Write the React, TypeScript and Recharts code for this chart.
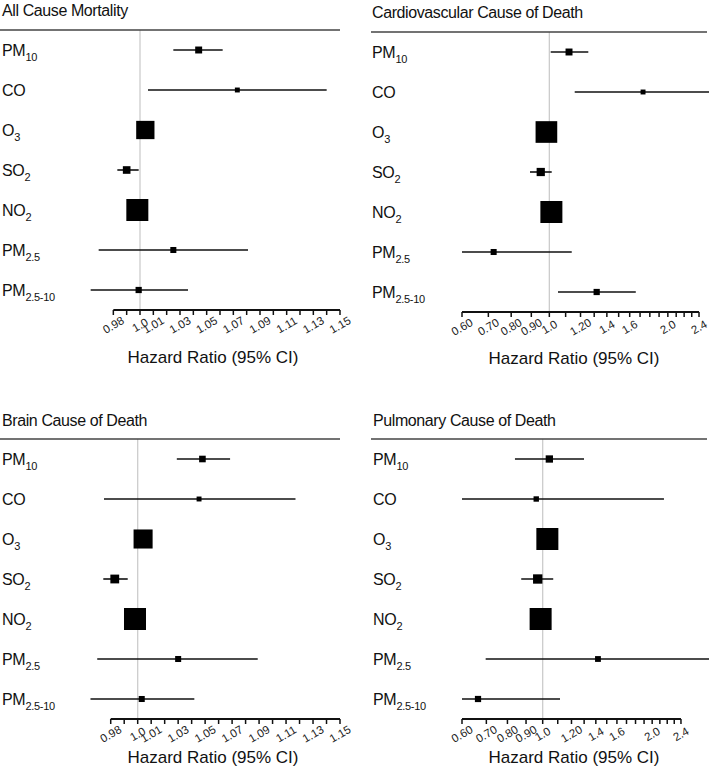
import React from "react";
import {
  ScatterChart,
  Scatter,
  XAxis,
  YAxis,
  ZAxis,
  ErrorBar,
  ReferenceLine,
} from "recharts";

// rows (pollutants), main text + subscript
const pollutants = ["PM", "CO", "O", "SO", "NO", "PM", "PM"];
const subscripts = ["10", "", "3", "2", "2", "2.5", "2.5-10"];

// linear hazard-ratio axis (left column)
const linearTicks = [
  0.98, 0.99, 1.0, 1.01, 1.02, 1.03, 1.04, 1.05, 1.06, 1.07, 1.08, 1.09, 1.1,
  1.11, 1.12, 1.13, 1.14, 1.15,
];
const linearLabelValues = [0.98, 1.0, 1.01, 1.03, 1.05, 1.07, 1.09, 1.11, 1.13, 1.15];
const linearLabelText = ["0.98", "1.0", "1.01", "1.03", "1.05", "1.07", "1.09", "1.11", "1.13", "1.15"];

// log hazard-ratio axis (right column)
const logTicks = [
  0.6, 0.7, 0.8, 0.9, 1.0, 1.1, 1.2, 1.3, 1.4, 1.5, 1.6, 1.7, 1.8, 1.9, 2.0,
  2.1, 2.2, 2.3, 2.4,
];
const logLabelValues = [0.6, 0.7, 0.8, 0.9, 1.0, 1.2, 1.4, 1.6, 2.0, 2.4];
const logLabelText = ["0.60", "0.70", "0.80", "0.90", "1.0", "1.20", "1.4", "1.6", "2.0", "2.4"];

// All Cause Mortality
const allCauseHR = [1.044, 1.073, 1.004, 0.990, 0.998, 1.025, 0.999];
const allCauseLow = [1.025, 1.006, 0.999, 0.983, 0.993, 0.969, 0.963];
const allCauseHigh = [1.062, 1.140, 1.009, 0.999, 1.004, 1.081, 1.036];
const allCauseWeight = [10, 5, 69, 12, 100, 7.5, 8];

// Cardiovascular Cause of Death
const cardioHR = [1.122, 1.73, 0.983, 0.951, 1.012, 0.722, 1.319];
const cardioLow = [1.008, 1.16, 0.95, 0.893, 0.97, 0.6, 1.052];
const cardioHigh = [1.256, 2.55, 1.02, 1.014, 1.05, 1.14, 1.658];
const cardioWeight = [10, 5, 97, 14, 100, 7.5, 8];

// Brain Cause of Death
const brainHR = [1.048, 1.0455, 1.004, 0.983, 0.998, 1.030, 1.003];
const brainLow = [1.029, 0.975, 0.999, 0.9745, 0.993, 0.970, 0.965];
const brainHigh = [1.0685, 1.117, 1.009, 0.9926, 1.004, 1.089, 1.042];
const brainWeight = [9, 5, 75, 16, 100, 7.5, 7.5];

// Pulmonary Cause of Death
const pulmHR = [1.043, 0.96, 1.03, 0.969, 0.987, 1.419, 0.664];
const pulmLow = [0.839, 0.6, 0.98, 0.873, 0.94, 0.697, 0.6];
const pulmHigh = [1.299, 2.155, 1.08, 1.069, 1.03, 2.9, 1.116];
const pulmWeight = [11, 6, 100, 18, 100, 7, 8];

const INK = "#111";
const FONT = '"Liberation Sans", Arial, Helvetica, sans-serif';
const rowTicks = pollutants.map((_, i) => i);

const buildRows = (hr: number[], low: number[], high: number[], w: number[]) =>
  pollutants.map((_, i) => ({
    row: i,
    hr: hr[i],
    err: [hr[i] - low[i], high[i] - hr[i]],
    w: w[i],
  }));

const Square = (p: any) => {
  const s = p.size != null ? Math.sqrt(p.size) : p.width * 0.886;
  return <rect x={p.cx - s / 2} y={p.cy - s / 2} width={s} height={s} fill="#000" />;
};

interface PanelProps {
  left: number;
  top: number;
  width: number;
  height: number;
  plotTop: number;
  right: number;
  yWidth: number;
  labelX: number;
  scale: "linear" | "log";
  domain: [number, number];
  ticks: number[];
  labelValues: number[];
  labelText: string[];
  axisFrom: number;
  axisTo: number;
  data: { row: number; hr: number; err: number[]; w: number }[];
}

function ForestPanel(props: PanelProps) {
  const renderXTick = (t: any) => {
    const idx = props.labelValues.findIndex((v) => Math.abs(v - t.payload.value) < 1e-9);
    if (idx < 0) return <g />;
    return (
      <g transform={`translate(${t.x},${t.y + 8}) rotate(-30)`}>
        <text x={0} y={0} dy="0.35em" textAnchor="middle" fontSize={11.5} fill="#222" fontFamily={FONT}>
          {props.labelText[idx]}
        </text>
      </g>
    );
  };

  const renderYTick = (t: any) => {
    const i = t.payload.value;
    return (
      <text x={props.labelX} y={t.y + 6} fontSize={16} fill="#111" fontFamily={FONT} letterSpacing={-0.3}>
        {pollutants[i]}
        {subscripts[i] ? (
          <tspan fontSize={11} dy={5}>
            {subscripts[i]}
          </tspan>
        ) : null}
      </text>
    );
  };

  return (
    <div style={{ position: "absolute", left: props.left, top: props.top }}>
      <ScatterChart
        width={props.width}
        height={props.height}
        margin={{ top: props.plotTop, right: props.right, bottom: 0, left: 0 }}
      >
        <XAxis
          type="number"
          dataKey="hr"
          scale={props.scale}
          domain={props.domain}
          allowDataOverflow
          ticks={props.ticks}
          interval={0}
          axisLine={false}
          tickLine={{ stroke: INK, strokeWidth: 1.5 }}
          tickSize={5}
          height={30}
          tick={renderXTick}
        />
        <YAxis
          type="number"
          dataKey="row"
          domain={[-0.5, 6.5]}
          reversed
          allowDataOverflow
          ticks={rowTicks}
          interval={0}
          axisLine={false}
          tickLine={false}
          width={props.yWidth}
          tick={renderYTick}
        />
        <ZAxis type="number" dataKey="w" domain={[0, 100]} range={[0, 484]} />
        <ReferenceLine x={1} stroke="#cccccc" strokeWidth={1.3} />
        <ReferenceLine
          segment={[
            { x: props.axisFrom, y: 6.5 },
            { x: props.axisTo, y: 6.5 },
          ]}
          stroke={INK}
          strokeWidth={1.8}
          ifOverflow="visible"
        />
        <Scatter data={props.data} isAnimationActive={false} shape={Square}>
          <ErrorBar dataKey="err" direction="x" width={0} stroke={INK} strokeWidth={1.6} />
        </Scatter>
      </ScatterChart>
    </div>
  );
}

export default function App() {
  return (
    <div
      style={{
        position: "absolute",
        left: 0,
        top: 0,
        width: 709,
        height: 768,
        background: "#fff",
        fontFamily: FONT,
      }}
    >
      <ForestPanel
        left={0}
        top={0}
        width={354}
        height={340}
        plotTop={30}
        right={14}
        yWidth={80}
        labelX={2}
        scale="linear"
        domain={[0.955, 1.15]}
        ticks={linearTicks}
        labelValues={linearLabelValues}
        labelText={linearLabelText}
        axisFrom={0.98}
        axisTo={1.15}
        data={buildRows(allCauseHR, allCauseLow, allCauseHigh, allCauseWeight)}
      />
      <ForestPanel
        left={354}
        top={0}
        width={355}
        height={342}
        plotTop={32}
        right={3}
        yWidth={108}
        labelX={18}
        scale="log"
        domain={[0.6, 2.5]}
        ticks={logTicks}
        labelValues={logLabelValues}
        labelText={logLabelText}
        axisFrom={0.6}
        axisTo={2.4}
        data={buildRows(cardioHR, cardioLow, cardioHigh, cardioWeight)}
      />
      <ForestPanel
        left={0}
        top={409}
        width={354}
        height={340}
        plotTop={30}
        right={14}
        yWidth={77}
        labelX={2}
        scale="linear"
        domain={[0.955, 1.15]}
        ticks={linearTicks}
        labelValues={linearLabelValues}
        labelText={linearLabelText}
        axisFrom={0.98}
        axisTo={1.15}
        data={buildRows(brainHR, brainLow, brainHigh, brainWeight)}
      />
      <ForestPanel
        left={354}
        top={409}
        width={355}
        height={340}
        plotTop={30}
        right={2}
        yWidth={108}
        labelX={19}
        scale="log"
        domain={[0.6, 2.83]}
        ticks={logTicks}
        labelValues={logLabelValues}
        labelText={logLabelText}
        axisFrom={0.6}
        axisTo={2.4}
        data={buildRows(pulmHR, pulmLow, pulmHigh, pulmWeight)}
      />
      {/* panel titles, header rules and axis titles */}
      <svg
        width={709}
        height={768}
        style={{ position: "absolute", left: 0, top: 0, pointerEvents: "none" }}
      >
        <g fontFamily={FONT} fill="#111">
          <text x={2} y={16} fontSize={16} letterSpacing={-0.4}>All Cause Mortality</text>
          <text x={372} y={18.3} fontSize={16} letterSpacing={-0.4}>Cardiovascular Cause of Death</text>
          <text x={2} y={425.7} fontSize={16} letterSpacing={-0.4}>Brain Cause of Death</text>
          <text x={373} y={425.7} fontSize={16} letterSpacing={-0.4}>Pulmonary Cause of Death</text>
          <text x={213} y={363.3} fontSize={17} textAnchor="middle">Hazard Ratio (95% CI)</text>
          <text x={574} y={363.5} fontSize={17} textAnchor="middle">Hazard Ratio (95% CI)</text>
          <text x={213} y={762.7} fontSize={17} textAnchor="middle">Hazard Ratio (95% CI)</text>
          <text x={574} y={763} fontSize={17} textAnchor="middle">Hazard Ratio (95% CI)</text>
        </g>
        <g stroke="#444" strokeWidth={1.6}>
          <line x1={0} y1={30} x2={340} y2={30} />
          <line x1={371} y1={32} x2={707} y2={32} />
          <line x1={0} y1={439} x2={340} y2={439} />
          <line x1={371} y1={439} x2={707} y2={439} />
        </g>
      </svg>
    </div>
  );
}
